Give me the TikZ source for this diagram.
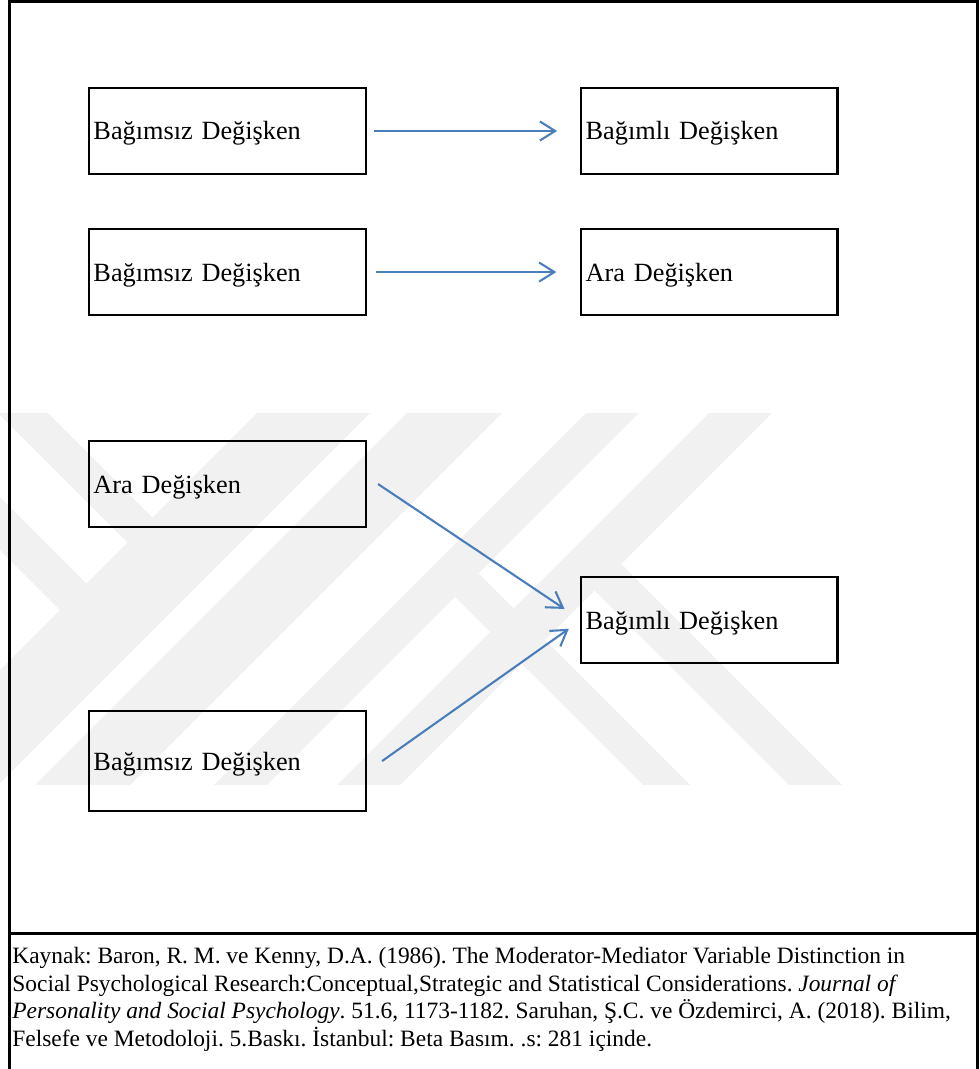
\documentclass[tikz,border=0pt]{standalone}
\usepackage{fontspec}
\setmainfont{Liberation Serif}
\usepackage{tikz}
\usetikzlibrary{positioning, arrows.meta}

\definecolor{arrowblue}{RGB}{74,126,187}
\definecolor{wmgray}{RGB}{241,241,241}
\frenchspacing

\begin{document}
\begin{tikzpicture}[x=0.525pt, y=-0.525pt,
  varbox/.style={draw, rectangle, line width=1.4pt, outer sep=0pt, inner xsep=2.4pt, inner ysep=0pt, align=left, text height=11pt, text depth=1.6pt, font=\fontsize{13.8}{16.5}\selectfont},
  leftbox/.style={varbox, text width=140.7pt, minimum height=45.15pt},
  rightbox/.style={varbox, text width=129.7pt, minimum height=45.15pt},
  link/.style={arrowblue, line width=1.1pt, -{Straight Barb[length=8pt, width=10pt]}},
  frame/.style={line width=1.5pt},
  source/.style={anchor=base west, inner sep=0pt, font=\fontsize{12.3}{14.8}\selectfont}]
  \useasboundingbox (0,0) rectangle (979,1069);

  % watermark
  \begin{scope}
    \clip (0,413) rectangle (979,785);
    \fill[wmgray] (257,413) -- (370,413) -- (-2,785) -- (-115,785) -- cycle;
    \fill[wmgray] (407,413) -- (502,413) -- (130,785) -- (35,785) -- cycle;
    \fill[wmgray] (586,413) -- (639,413) -- (267,785) -- (214,785) -- cycle;
    \fill[wmgray] (709,413) -- (772,413) -- (400,785) -- (337,785) -- cycle;
    \fill[wmgray] (-2,413) -- (48,413) -- (187.5,552.5) -- (162.5,577.5) -- cycle;
    \fill[wmgray] (-10,487) -- (111.5,608.5) -- (85,635) -- (-10,540) -- cycle;
    \fill[wmgray] (608.5,551.5) -- (842,785) -- (789,785) -- (582,578) -- cycle;
    \fill[wmgray] (467.5,562.5) -- (690,785) -- (643,785) -- (444,586) -- cycle;
  \end{scope}

  % frame
  \draw[frame] (9.5,1069) -- (9.5,1.3) -- (977.3,1.3) -- (977.3,1069);
  \draw[frame] (9.5,933.8) -- (977.3,933.8);

  \node[leftbox] (indep1) at (227.5,131) {Bağımsız Değişken};
  \node[rightbox] (dep1) [right=112.9pt of indep1] {Bağımlı Değişken};
  \node[leftbox] (indep2) [below=28.9pt of indep1] {Bağımsız Değişken};
  \node[rightbox] (med1) [right=112.9pt of indep2] {Ara Değişken};
  \node[leftbox] (med2) [below=66.15pt of indep2] {Ara Değişken};
  \node[rightbox] (dep2) [below=137.55pt of med1] {Bağımlı Değişken};
  \node[leftbox, minimum height=52.5pt] (indep3) [below=96.6pt of med2] {Bağımsız Değişken};

  \draw[link, shorten <=4.2pt, shorten >=12.6pt] (indep1) -- (dep1);
  \draw[link, shorten <=5.25pt, shorten >=13pt] (indep2) -- (med1);
  \draw[link, shorten >=10.5pt] ([xshift=6.3pt]med2.east) -- (dep2.west);
  \draw[link, shorten >=7.9pt] ([xshift=8.4pt]indep3.east) -- (dep2.west);

  % source
  \node[source] (src1) at (12,963) {Kaynak: Baron, R. M. ve Kenny, D.A. (1986). The Moderator-Mediator Variable Distinction in};
  \node[source] (src2) at (12,991) {Social Psychological Research:Conceptual,Strategic and Statistical Considerations. \textit{Journal of}};
  \node[source] (src3) at (12,1018) {\textit{Personality and Social Psychology}. 51.6, 1173-1182. Saruhan, Ş.C. ve Özdemirci, A. (2018). Bilim,};
  \node[source] (src4) at (12,1046) {Felsefe ve Metodoloji. 5.Baskı. İstanbul: Beta Basım. .s: 281 içinde.};
\end{tikzpicture}
\end{document}
